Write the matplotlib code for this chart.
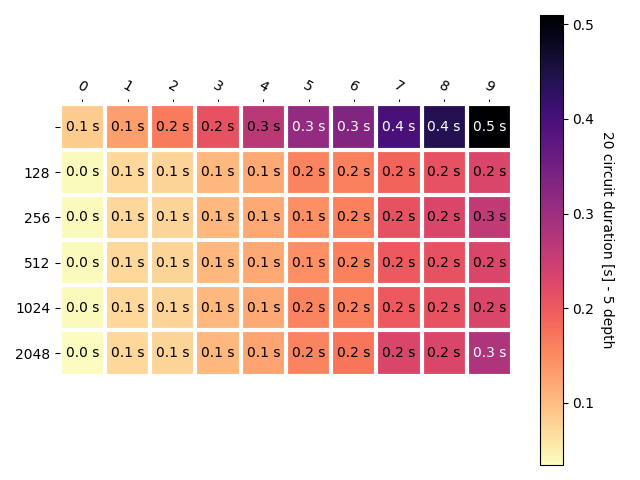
import numpy as np
import matplotlib
matplotlib.use("Agg")
import matplotlib.pyplot as plt

rows = ["", "128", "256", "512", "1024", "2048"]
cols = ["0", "1", "2", "3", "4", "5", "6", "7", "8", "9"]

durations = np.array([
    [0.085, 0.130, 0.165, 0.210, 0.265, 0.310, 0.330, 0.400, 0.440, 0.510],
    [0.036, 0.072, 0.075, 0.105, 0.120, 0.155, 0.160, 0.190, 0.210, 0.230],
    [0.036, 0.072, 0.075, 0.105, 0.120, 0.145, 0.160, 0.210, 0.230, 0.260],
    [0.036, 0.072, 0.075, 0.105, 0.120, 0.145, 0.160, 0.200, 0.210, 0.230],
    [0.036, 0.072, 0.075, 0.105, 0.120, 0.155, 0.160, 0.200, 0.210, 0.230],
    [0.034, 0.072, 0.075, 0.105, 0.125, 0.155, 0.170, 0.230, 0.230, 0.280],
])


def heatmap(data, row_labels, col_labels, ax, cbarlabel=""):
    im = ax.imshow(data, cmap="magma_r")
    cbar = ax.figure.colorbar(im, ax=ax)
    cbar.ax.set_ylabel(cbarlabel, rotation=-90, va="bottom")

    ax.set_xticks(np.arange(data.shape[1]), labels=col_labels)
    ax.set_yticks(np.arange(data.shape[0]), labels=row_labels)
    ax.tick_params(top=True, bottom=False, labeltop=True, labelbottom=False)
    plt.setp(ax.get_xticklabels(), rotation=-30, ha="right", rotation_mode="anchor")

    ax.spines[:].set_visible(False)
    ax.set_xticks(np.arange(data.shape[1] + 1) - .5, minor=True)
    ax.set_yticks(np.arange(data.shape[0] + 1) - .5, minor=True)
    ax.grid(which="minor", color="w", linestyle='-', linewidth=3)
    ax.tick_params(which="minor", bottom=False, left=False)
    # let the outer white lines cover the image edge fully
    for tick in ax.xaxis.get_minor_ticks() + ax.yaxis.get_minor_ticks():
        tick.gridline.set_clip_on(False)
    return im, cbar


def annotate(im, fmt="{x:.1f} s"):
    data = im.get_array()
    threshold = im.norm(data.max()) / 2.
    for i in range(data.shape[0]):
        for j in range(data.shape[1]):
            color = "white" if im.norm(data[i, j]) > threshold else "black"
            im.axes.text(j, i, fmt.format(x=data[i, j]), ha="center", va="center", color=color)


fig, ax = plt.subplots(figsize=(6.4, 4.8))
im, cbar = heatmap(durations, rows, cols, ax, cbarlabel="20 circuit duration [s] - 5 depth")
annotate(im)
fig.tight_layout()
plt.savefig("out.png")
